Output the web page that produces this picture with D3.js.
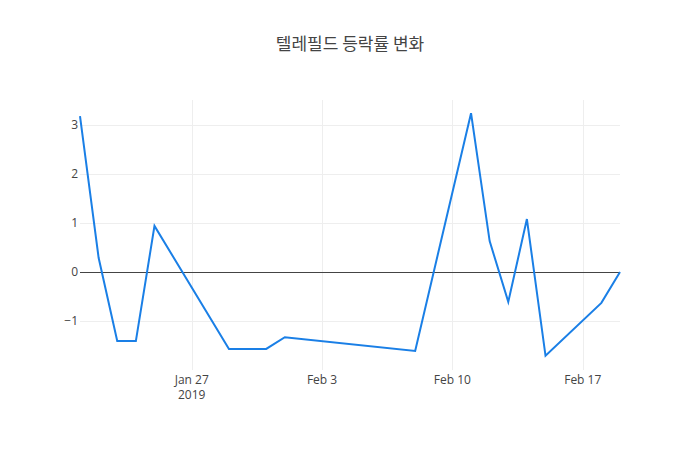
<!DOCTYPE html>
<html><head><meta charset="utf-8">
<script src="https://cdn.jsdelivr.net/npm/d3@7"></script>
<style>body{margin:0;background:#fff}</style></head>
<body><svg id="c" width="700" height="450"></svg>
<script>
const dates = ["2019-01-21","2019-01-22","2019-01-23","2019-01-24","2019-01-25","2019-01-29","2019-01-31","2019-02-01","2019-02-08","2019-02-11","2019-02-12","2019-02-13","2019-02-14","2019-02-15","2019-02-18","2019-02-19"];
const values = [3.18,0.29,-1.41,-1.41,0.94,-1.57,-1.57,-1.33,-1.61,3.24,0.63,-0.61,1.08,-1.71,-0.63,0];
const yTicks = [-1,0,1,2,3];
const xTicks = ["2019-01-27","2019-02-03","2019-02-10","2019-02-17"];
const title = "텔레필드 등락률 변화";

const parse = d3.utcParse("%Y-%m-%d");
const data = dates.map((d,i)=>({x:parse(d),y:values[i]}));
const svg = d3.select("#c");
const L=80,R=620,T=100,B=370;
const x = d3.scaleUtc().domain([data[0].x,data[data.length-1].x]).range([L,R]);
const y = d3.scaleLinear().domain([-2.0,3.51]).range([B,T]);
const font = "'Open Sans', sans-serif";

svg.append("g").selectAll("line").data(yTicks.filter(d=>d!==0)).join("line")
  .attr("x1",L).attr("x2",R).attr("y1",d=>Math.round(y(d))+0.5).attr("y2",d=>Math.round(y(d))+0.5)
  .attr("stroke","#eee").attr("stroke-width",1);
svg.append("g").selectAll("line").data(xTicks).join("line")
  .attr("x1",d=>Math.round(x(parse(d)))+0.5).attr("x2",d=>Math.round(x(parse(d)))+0.5).attr("y1",T).attr("y2",B)
  .attr("stroke","#eee");
svg.append("line").attr("x1",L).attr("x2",R).attr("y1",Math.round(y(0))+0.5).attr("y2",Math.round(y(0))+0.5).attr("stroke","#444");

svg.append("g").selectAll("text").data(yTicks).join("text")
  .attr("x",L-2).attr("y",d=>y(d)+4).attr("text-anchor","end")
  .attr("font-family",font).attr("font-size",12).attr("fill","#444")
  .text(d=>d<0?"\u2212"+Math.abs(d):d);
const fmt = d3.utcFormat("%b %-d");
svg.append("g").selectAll("text").data(xTicks).join("text")
  .attr("x",d=>x(parse(d))).attr("y",B+14).attr("text-anchor","middle")
  .attr("font-family",font).attr("font-size",12).attr("fill","#444")
  .text(d=>fmt(parse(d)));
svg.append("text").attr("x",x(parse(xTicks[0]))).attr("y",B+29).attr("text-anchor","middle")
  .attr("font-family",font).attr("font-size",12).attr("fill","#444").text("2019");

svg.append("path").datum(data)
  .attr("d",d3.line().x(d=>x(d.x)).y(d=>y(d.y)))
  .attr("fill","none").attr("stroke","#1a7fe6").attr("stroke-width",2);

svg.append("text").attr("x",350).attr("y",50).attr("text-anchor","middle")
  .attr("font-family","'Noto Sans CJK KR', sans-serif").attr("font-size",17).attr("fill","#444")
  .text(title);
</script></body></html>
